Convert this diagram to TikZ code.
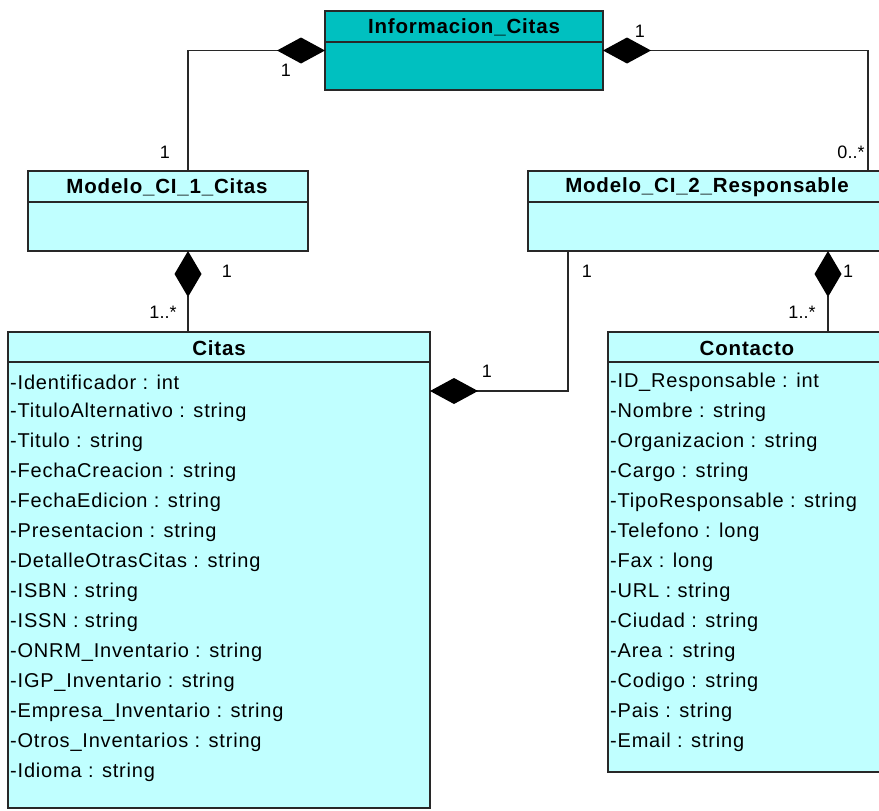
\documentclass[tikz,border=0pt]{standalone}
\usepackage{fontspec}
\setmainfont{Liberation Sans}
\newfontfamily\attrfont[LetterSpace=4]{Liberation Sans}
\newfontfamily\titlefont[LetterSpace=4]{Liberation Sans}
\usetikzlibrary{arrows.meta}
\definecolor{teal2}{RGB}{0,192,192}
\definecolor{paleCyan}{RGB}{192,255,255}
\definecolor{edge}{RGB}{40,40,40}
\begin{document}
\begin{tikzpicture}[x=1pt,y=-1pt,
  classbox/.style={draw=edge,line width=1.5pt,inner sep=0pt,outer sep=0pt,anchor=north west},
  title/.style={font=\titlefont\fontsize{20.5}{22}\selectfont\bfseries,inner sep=0pt},
  attr/.style={font=\attrfont\fontsize{20}{22}\selectfont,inner sep=0pt,anchor=west},
  mult/.style={font=\fontsize{18}{20}\selectfont,inner sep=0pt},
  comp/.style={draw=edge,line width=1.5pt,-{Diamond[length=48pt,width=26pt,fill=black,color=black]}},
  compv/.style={draw=edge,line width=1.5pt,-{Diamond[length=46pt,width=27pt,fill=black,color=black]}}]
\useasboundingbox (0,0) rectangle (879,811);

% class boxes
\node[classbox,fill=teal2,minimum width=278pt,minimum height=79pt] (info) at (325,11) {};
\node[classbox,fill=paleCyan,minimum width=280pt,minimum height=80pt] (m1) at (28,171) {};
\node[classbox,fill=paleCyan,minimum width=358pt,minimum height=80pt] (m2) at (528,171) {};
\node[classbox,fill=paleCyan,minimum width=422pt,minimum height=476pt] (citas) at (8,332) {};
\node[classbox,fill=paleCyan,minimum width=278pt,minimum height=440pt] (cont) at (608,332) {};

% compartment separators
\draw[edge,line width=1.5pt] (325,42) -- (603,42);
\draw[edge,line width=1.5pt] (28,202) -- (308,202);
\draw[edge,line width=1.5pt] (528,202) -- (886,202);
\draw[edge,line width=1.5pt] (8,362) -- (430,362);
\draw[edge,line width=1.5pt] (608,362) -- (886,362);

% class names
\node[title] (infoT) at (464,27) {Informacion\_Citas};
\node[title] (m1T) at (167,187) {Modelo\_CI\_1\_Citas};
\node[title] (m2T) at (707,187) {Modelo\_CI\_2\_Responsable};
\node[title] (citasT) at (219,348) {Citas};
\node[title] (contT) at (747,348) {Contacto};

% attributes of Citas
\foreach \t [count=\i] in {-Identificador : int,-TituloAlternativo : string,-Titulo : string,
  -FechaCreacion : string,-FechaEdicion : string,-Presentacion : string,
  -DetalleOtrasCitas : string,-ISBN : string,-ISSN : string,
  -ONRM\_Inventario : string,-IGP\_Inventario : string,-Empresa\_Inventario : string,
  -Otros\_Inventarios : string,-Idioma : string}
  \node[attr] (ca\i) at (10,352+30*\i) {\t};

% attributes of Contacto
\foreach \t [count=\i] in {-ID\_Responsable : int,-Nombre : string,-Organizacion : string,
  -Cargo : string,-TipoResponsable : string,-Telefono : long,-Fax : long,
  -URL : string,-Ciudad : string,-Area : string,-Codigo : string,
  -Pais : string,-Email : string}
  \node[attr] (ka\i) at (610,352+30*\i) {\t};

% connector end points
\coordinate (m1t) at (188,171);
\coordinate (m2t) at (868,171);
\coordinate (ct) at (188,332);
\coordinate (kt) at (828,332);
\coordinate (m2b) at (568,251);
\coordinate (cj) at (430,391);

% composition connectors
\draw[comp] (m1t) |- (info.west);
\draw[comp] (m2t) |- (info.east);
\draw[compv] (ct) -- (ct |- m1.south);
\draw[compv] (kt) -- (kt |- m2.south);
\draw[comp] (m2b) |- (cj);

% multiplicities
\node[mult] (l1) at (286,70) {1};
\node[mult] (l2) at (165,152) {1};
\node[mult] (l3) at (640,31) {1};
\node[mult] (l4) at (851,152) {0..*};
\node[mult] (l5) at (227,271) {1};
\node[mult] (l6) at (163,312) {1..*};
\node[mult] (l7) at (587,271) {1};
\node[mult] (l8) at (487,371) {1};
\node[mult] (l9) at (848,271) {1};
\node[mult] (l10) at (802,312) {1..*};
\end{tikzpicture}
\end{document}
